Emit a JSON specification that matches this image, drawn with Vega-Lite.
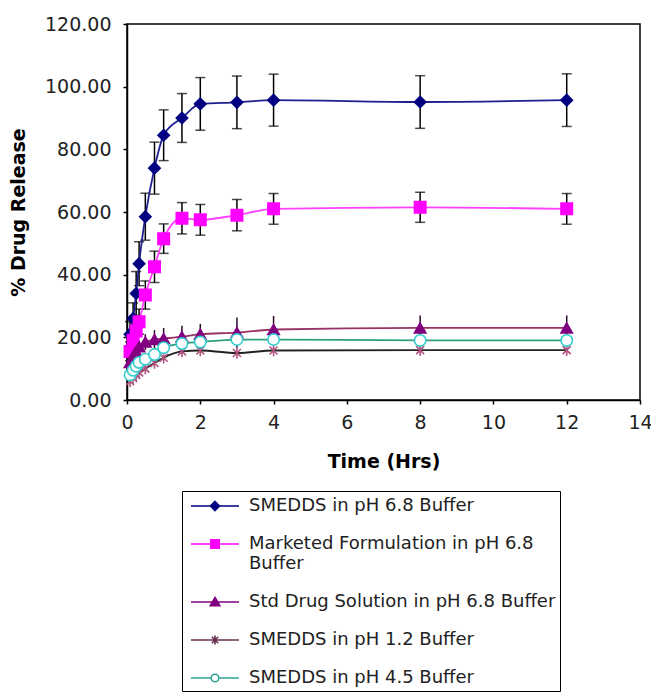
{
  "$schema": "https://vega.github.io/schema/vega-lite/v6.json",
  "width": 513,
  "height": 376,
  "autosize": {"type": "none"},
  "padding": {"left": 127, "top": 24, "right": 11, "bottom": 299},
  "background": "white",
  "config": {
    "view": {"stroke": "black", "strokeWidth": 1.5},
    "axis": {
      "grid": false, "domainColor": "black", "domainWidth": 1.5, "tickColor": "black", "tickWidth": 1.5, "tickSize": 4, "labelFlush": false,
      "labelColor": "#222222", "labelFont": "DejaVu Sans", "labelFontSize": 19, "labelPadding": 9,
      "titleColor": "black", "titleFont": "DejaVu Sans", "titleFontSize": 19, "titleFontWeight": "bold"
    },
    "legend": {
      "orient": "none", "legendX": 55, "legendY": 467, "padding": 4, "rowPadding": 18,
      "strokeColor": "black", "labelFont": "DejaVu Sans", "labelFontSize": 18, "labelColor": "#222222",
      "labelLimit": 400, "symbolSize": 400, "symbolStrokeWidth": 1.6, "symbolOffset": 18, "labelOffset": 23
    }
  },
  "data": {"values": [
    {"s": "SMEDDS in pH 6.8 Buffer", "t": 0.083, "y": 21, "sd": 4},
    {"s": "SMEDDS in pH 6.8 Buffer", "t": 0.167, "y": 26, "sd": 5},
    {"s": "SMEDDS in pH 6.8 Buffer", "t": 0.25, "y": 34, "sd": 7},
    {"s": "SMEDDS in pH 6.8 Buffer", "t": 0.33, "y": 43.5, "sd": 7},
    {"s": "SMEDDS in pH 6.8 Buffer", "t": 0.5, "y": 58.5, "sd": 7.5},
    {"s": "SMEDDS in pH 6.8 Buffer", "t": 0.75, "y": 74, "sd": 8.3},
    {"s": "SMEDDS in pH 6.8 Buffer", "t": 1, "y": 84.5, "sd": 8.1},
    {"s": "SMEDDS in pH 6.8 Buffer", "t": 1.5, "y": 90, "sd": 7.8},
    {"s": "SMEDDS in pH 6.8 Buffer", "t": 2, "y": 94.5, "sd": 8.4},
    {"s": "SMEDDS in pH 6.8 Buffer", "t": 3, "y": 95, "sd": 8.4},
    {"s": "SMEDDS in pH 6.8 Buffer", "t": 4, "y": 95.7, "sd": 8.3},
    {"s": "SMEDDS in pH 6.8 Buffer", "t": 8, "y": 95.1, "sd": 8.4},
    {"s": "SMEDDS in pH 6.8 Buffer", "t": 12, "y": 95.7, "sd": 8.4},
    {"s": "Marketed Formulation in pH 6.8 Buffer", "t": 0.083, "y": 15.5, "sd": 3},
    {"s": "Marketed Formulation in pH 6.8 Buffer", "t": 0.167, "y": 19, "sd": 3.5},
    {"s": "Marketed Formulation in pH 6.8 Buffer", "t": 0.25, "y": 22, "sd": 4},
    {"s": "Marketed Formulation in pH 6.8 Buffer", "t": 0.33, "y": 25, "sd": 4},
    {"s": "Marketed Formulation in pH 6.8 Buffer", "t": 0.5, "y": 33.5, "sd": 4.5},
    {"s": "Marketed Formulation in pH 6.8 Buffer", "t": 0.75, "y": 42.5, "sd": 5},
    {"s": "Marketed Formulation in pH 6.8 Buffer", "t": 1, "y": 51.5, "sd": 4.7},
    {"s": "Marketed Formulation in pH 6.8 Buffer", "t": 1.5, "y": 58, "sd": 5},
    {"s": "Marketed Formulation in pH 6.8 Buffer", "t": 2, "y": 57.5, "sd": 4.9},
    {"s": "Marketed Formulation in pH 6.8 Buffer", "t": 3, "y": 59, "sd": 5},
    {"s": "Marketed Formulation in pH 6.8 Buffer", "t": 4, "y": 61, "sd": 4.9},
    {"s": "Marketed Formulation in pH 6.8 Buffer", "t": 8, "y": 61.5, "sd": 4.8},
    {"s": "Marketed Formulation in pH 6.8 Buffer", "t": 12, "y": 61, "sd": 4.9},
    {"s": "Std Drug Solution in pH 6.8 Buffer", "t": 0.083, "y": 12, "sd": 1.5},
    {"s": "Std Drug Solution in pH 6.8 Buffer", "t": 0.167, "y": 14, "sd": 2},
    {"s": "Std Drug Solution in pH 6.8 Buffer", "t": 0.25, "y": 15.5, "sd": 2},
    {"s": "Std Drug Solution in pH 6.8 Buffer", "t": 0.33, "y": 17, "sd": 2},
    {"s": "Std Drug Solution in pH 6.8 Buffer", "t": 0.5, "y": 18.5, "sd": 2.5},
    {"s": "Std Drug Solution in pH 6.8 Buffer", "t": 0.75, "y": 19.3, "sd": 3},
    {"s": "Std Drug Solution in pH 6.8 Buffer", "t": 1, "y": 19.6, "sd": 3.4},
    {"s": "Std Drug Solution in pH 6.8 Buffer", "t": 1.5, "y": 20.2, "sd": 3.5},
    {"s": "Std Drug Solution in pH 6.8 Buffer", "t": 2, "y": 21, "sd": 3.3},
    {"s": "Std Drug Solution in pH 6.8 Buffer", "t": 3, "y": 21.5, "sd": 4.8},
    {"s": "Std Drug Solution in pH 6.8 Buffer", "t": 4, "y": 22.5, "sd": 4.3},
    {"s": "Std Drug Solution in pH 6.8 Buffer", "t": 8, "y": 23, "sd": 4},
    {"s": "Std Drug Solution in pH 6.8 Buffer", "t": 12, "y": 23, "sd": 4},
    {"s": "SMEDDS in pH 1.2 Buffer", "t": 0.083, "y": 6, "sd": 0},
    {"s": "SMEDDS in pH 1.2 Buffer", "t": 0.167, "y": 7, "sd": 0},
    {"s": "SMEDDS in pH 1.2 Buffer", "t": 0.25, "y": 8, "sd": 0},
    {"s": "SMEDDS in pH 1.2 Buffer", "t": 0.33, "y": 8.8, "sd": 0},
    {"s": "SMEDDS in pH 1.2 Buffer", "t": 0.5, "y": 10, "sd": 0},
    {"s": "SMEDDS in pH 1.2 Buffer", "t": 0.75, "y": 11.8, "sd": 0},
    {"s": "SMEDDS in pH 1.2 Buffer", "t": 1, "y": 13.5, "sd": 0},
    {"s": "SMEDDS in pH 1.2 Buffer", "t": 1.5, "y": 15.5, "sd": 0},
    {"s": "SMEDDS in pH 1.2 Buffer", "t": 2, "y": 15.8, "sd": 0},
    {"s": "SMEDDS in pH 1.2 Buffer", "t": 3, "y": 15, "sd": 0},
    {"s": "SMEDDS in pH 1.2 Buffer", "t": 4, "y": 15.8, "sd": 0},
    {"s": "SMEDDS in pH 1.2 Buffer", "t": 8, "y": 15.9, "sd": 0},
    {"s": "SMEDDS in pH 1.2 Buffer", "t": 12, "y": 15.9, "sd": 0},
    {"s": "SMEDDS in pH 4.5 Buffer", "t": 0.083, "y": 8, "sd": 0},
    {"s": "SMEDDS in pH 4.5 Buffer", "t": 0.167, "y": 9.5, "sd": 0},
    {"s": "SMEDDS in pH 4.5 Buffer", "t": 0.25, "y": 10.8, "sd": 0},
    {"s": "SMEDDS in pH 4.5 Buffer", "t": 0.33, "y": 12, "sd": 0},
    {"s": "SMEDDS in pH 4.5 Buffer", "t": 0.5, "y": 13, "sd": 0},
    {"s": "SMEDDS in pH 4.5 Buffer", "t": 0.75, "y": 14.5, "sd": 0},
    {"s": "SMEDDS in pH 4.5 Buffer", "t": 1, "y": 16.7, "sd": 0},
    {"s": "SMEDDS in pH 4.5 Buffer", "t": 1.5, "y": 18, "sd": 0},
    {"s": "SMEDDS in pH 4.5 Buffer", "t": 2, "y": 18.5, "sd": 0},
    {"s": "SMEDDS in pH 4.5 Buffer", "t": 3, "y": 19.3, "sd": 0},
    {"s": "SMEDDS in pH 4.5 Buffer", "t": 4, "y": 19.3, "sd": 0},
    {"s": "SMEDDS in pH 4.5 Buffer", "t": 8, "y": 19, "sd": 0},
    {"s": "SMEDDS in pH 4.5 Buffer", "t": 12, "y": 19, "sd": 0}
  ]},
  "layer": [
    {
      "transform": [{"filter": "datum.sd > 0 && datum.s !== 'Std Drug Solution in pH 6.8 Buffer'"}],
      "mark": {"type": "errorbar", "color": "black", "ticks": {"size": 10, "thickness": 1.5}, "rule": {"strokeWidth": 1.5}},
      "encoding": {
        "x": {"field": "t", "type": "quantitative", "scale": {"domain": [0, 14]}, "axis": {"values": [0, 2, 4, 6, 8, 10, 12, 14], "titlePadding": 20}, "title": "Time (Hrs)"},
        "y": {"field": "y", "type": "quantitative", "scale": {"domain": [0, 120]}, "axis": {"values": [0, 20, 40, 60, 80, 100, 120], "format": ".2f", "labelPadding": 12, "titlePadding": 16}, "title": "% Drug Release"},
        "yError": {"field": "sd"}
      }
    },
    {
      "transform": [{"filter": "datum.s === 'Std Drug Solution in pH 6.8 Buffer'"}],
      "mark": {"type": "errorbar", "color": "#2a0a2a", "rule": {"strokeWidth": 1.5}},
      "encoding": {
        "x": {"field": "t", "type": "quantitative", "title": "Time (Hrs)"},
        "y": {"field": "y", "type": "quantitative", "title": "% Drug Release"},
        "yError": {"field": "sd"}
      }
    },
    {
      "mark": {"type": "line", "strokeWidth": 1.8, "interpolate": "monotone"},
      "encoding": {
        "x": {"field": "t", "type": "quantitative", "title": "Time (Hrs)"},
        "y": {"field": "y", "type": "quantitative", "title": "% Drug Release"},
        "stroke": {"field": "s", "type": "nominal", "legend": null,
          "scale": {"domain": ["SMEDDS in pH 6.8 Buffer", "Marketed Formulation in pH 6.8 Buffer", "Std Drug Solution in pH 6.8 Buffer", "SMEDDS in pH 1.2 Buffer", "SMEDDS in pH 4.5 Buffer"],
                    "range": ["#1f1f8f", "#ff40ff", "#993366", "#222222", "#2f9f7f"]}}
      }
    },
    {
      "mark": {"type": "point", "filled": false, "opacity": 1, "strokeWidth": 1.6, "size": 130},
      "encoding": {
        "x": {"field": "t", "type": "quantitative", "title": "Time (Hrs)"},
        "y": {"field": "y", "type": "quantitative", "title": "% Drug Release"},
        "color": {"field": "s", "type": "nominal", "legend": null,
          "scale": {"domain": ["SMEDDS in pH 6.8 Buffer", "Marketed Formulation in pH 6.8 Buffer", "Std Drug Solution in pH 6.8 Buffer", "SMEDDS in pH 1.2 Buffer", "SMEDDS in pH 4.5 Buffer"],
                    "range": ["#000080", "#ff00ff", "#800080", "#b0527f", "#33cccc"]}},
        "fill": {"field": "s", "type": "nominal", "legend": null,
          "scale": {"domain": ["SMEDDS in pH 6.8 Buffer", "Marketed Formulation in pH 6.8 Buffer", "Std Drug Solution in pH 6.8 Buffer", "SMEDDS in pH 1.2 Buffer", "SMEDDS in pH 4.5 Buffer"],
                    "range": ["#000080", "#ff00ff", "#800080", "transparent", "#ffffff"]}},
        "shape": {"field": "s", "type": "nominal", "legend": null,
          "scale": {"domain": ["SMEDDS in pH 6.8 Buffer", "Marketed Formulation in pH 6.8 Buffer", "Std Drug Solution in pH 6.8 Buffer", "SMEDDS in pH 1.2 Buffer", "SMEDDS in pH 4.5 Buffer"],
                    "range": ["diamond", "square", "triangle-up", "M-0.7,-0.7L0.7,0.7M-0.7,0.7L0.7,-0.7M0,-1V1", "circle"]}}
      }
    },
    {
      "transform": [{"filter": "datum.t < 0"}],
      "mark": {"type": "point", "filled": false, "opacity": 1, "strokeWidth": 1.6},
      "encoding": {
        "shape": {"field": "s", "type": "nominal",
          "scale": {"domain": ["SMEDDS in pH 6.8 Buffer", "Marketed Formulation in pH 6.8 Buffer", "Std Drug Solution in pH 6.8 Buffer", "SMEDDS in pH 1.2 Buffer", "SMEDDS in pH 4.5 Buffer"],
                    "range": ["M-2.4,0H2.4M0,-0.45L0.45,0L0,0.45L-0.45,0Z", "M-2.4,0H2.4M-0.42,-0.42H0.42V0.42H-0.42Z", "M-2.4,0H2.4M0,-0.45L0.48,0.38L-0.48,0.38Z", "M-2.4,0H2.4M-0.32,-0.32L0.32,0.32M-0.32,0.32L0.32,-0.32M0,-0.45V0.45", "M-2.4,0H-0.38M0.38,0H2.4M-0.38,0A0.38,0.38,0,1,0,0.38,0A0.38,0.38,0,1,0,-0.38,0Z"]},
          "legend": {"title": null, "labelExpr": "datum.label === 'Marketed Formulation in pH 6.8 Buffer' ? ['Marketed Formulation in pH 6.8', 'Buffer'] : datum.label"}},
        "fill": {"field": "s", "type": "nominal",
          "scale": {"domain": ["SMEDDS in pH 6.8 Buffer", "Marketed Formulation in pH 6.8 Buffer", "Std Drug Solution in pH 6.8 Buffer", "SMEDDS in pH 1.2 Buffer", "SMEDDS in pH 4.5 Buffer"],
                    "range": ["#000080", "#ff00ff", "#800080", "transparent", "#ffffff"]},
          "legend": {"title": null, "labelExpr": "datum.label === 'Marketed Formulation in pH 6.8 Buffer' ? ['Marketed Formulation in pH 6.8', 'Buffer'] : datum.label"}},
        "stroke": {"field": "s", "type": "nominal",
          "scale": {"domain": ["SMEDDS in pH 6.8 Buffer", "Marketed Formulation in pH 6.8 Buffer", "Std Drug Solution in pH 6.8 Buffer", "SMEDDS in pH 1.2 Buffer", "SMEDDS in pH 4.5 Buffer"],
                    "range": ["#000080", "#ff00ff", "#800080", "#6a3050", "#2fa596"]},
          "legend": {"title": null, "labelExpr": "datum.label === 'Marketed Formulation in pH 6.8 Buffer' ? ['Marketed Formulation in pH 6.8', 'Buffer'] : datum.label"}}
      }
    }
  ],
  "resolve": {"scale": {"stroke": "independent", "fill": "independent", "shape": "independent", "color": "independent"}}
}
